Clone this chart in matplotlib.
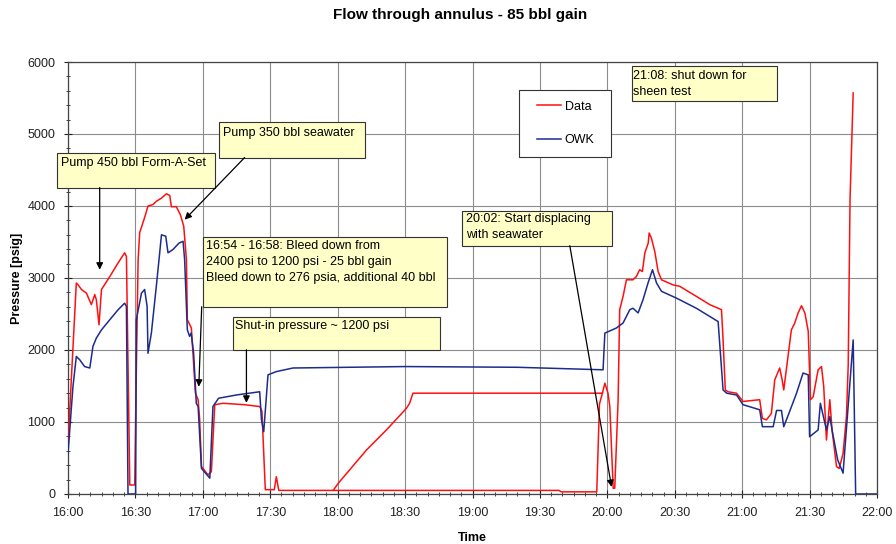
import matplotlib
matplotlib.use('Agg')
import matplotlib.pyplot as plt
from matplotlib.ticker import MultipleLocator, FuncFormatter
from matplotlib.patches import Rectangle

plt.rcParams['font.family'] = ['Liberation Sans', 'DejaVu Sans']

# ---- data (minutes after 16:00, pressure psig) ----
data_t = [0, 3.7, 4.5, 6, 8.2, 10.4, 11.9, 12.6, 13.8, 14.9, 18.6, 22.3, 25.2, 26.0, 27.5, 29.7,
          30.3, 31.2, 31.9, 34.1, 35.6, 37.8, 39.3, 41.6, 43.8, 45.3, 46.0, 48.2, 50.0, 51.5, 52.7,
          53.1, 54.9, 55.6, 56.7, 57.9, 58.6, 59.4, 62.3, 63.8, 65.3, 69, 78.6, 85.3, 86.3, 87.8,
          91.8, 92.7, 93.8, 118, 120.3, 132.8, 141.7, 150.6, 152, 153.5, 237.8, 238.9, 240.3,
          241.1, 242.6, 243.3, 244.8, 245.5, 247, 248.5, 251.4, 252.9, 254.4, 255.6, 256.7, 258.2,
          258.6, 259.6, 261.1, 262.6, 264.1, 269.2, 272.2, 279.6, 285.6, 290.8, 291.5, 292.5,
          293.7, 297.5, 300.4, 307.8, 309, 310.8, 313, 314.5, 316.7, 317.8, 318.5, 321.9, 323.4,
          324.9, 326.4, 327.9, 329.4, 330.4, 331.6, 333.8, 335.3, 336.3, 337.5, 339, 340, 342,
          343.2, 344.9, 346.4, 347.2, 348, 349.4]
data_v = [700, 2930, 2905, 2840, 2790, 2630, 2770, 2700, 2350, 2840, 3020, 3210, 3350, 3300, 125, 125,
          1500, 3250, 3630, 3840, 4000, 4020, 4065, 4110, 4170, 4145, 3990, 3990, 3880, 3720, 3255,
          2420, 2305, 1960, 1400, 1310, 1030, 380, 265, 310, 1240, 1260, 1240, 1215, 1150, 60,
          60, 240, 50, 50, 150, 610, 890, 1190, 1260, 1400, 1400, 1540, 1400,
          1215, 80, 80, 1310, 2560, 2745, 2975, 2975, 3020, 3115, 3090, 3350, 3485,
          3625, 3555, 3370, 3090, 2975, 2905, 2885, 2745, 2630, 2560, 2140, 1445,
          1420, 1400, 1285, 1310, 1050, 1030, 1120, 1585, 1750, 1585, 1445, 2280, 2375,
          2515, 2615, 2515, 2260, 1310, 1350, 1725, 1770, 1490, 750, 1310, 890, 380,
          355, 565, 1075, 1800, 4090, 5570]

# second (low) trace of the Data series between 18:00 and 20:00
data_low_t = [118, 218.5, 219.5, 235.3, 236.5, 237.8]
data_low_v = [50, 50, 30, 30, 1250, 1400]

owk_t = [0, 2.2, 3.7, 5.2, 7.4, 9.7, 11.1, 12.6, 14.9, 18.6, 22.3, 25.2, 26.0, 26.7, 30.1, 30.4,
         32.7, 34.1, 35.2, 35.6, 37.1, 39.3, 40.5, 41.6, 43.5, 44.5, 46.7, 49.4, 51.2, 51.9, 53.1,
         54.1, 54.8, 55.9, 57.1, 57.9, 59.4, 63.1, 64.5, 67, 74.9, 85.3, 86.1, 87.1, 89, 92.7,
         100.1, 150, 200, 238.1, 238.9, 244, 247, 250, 251.4, 253.7, 255.9, 258.1, 260.1, 261.9,
         264.1, 270.8, 279.6, 289.3, 291.5, 293.1, 297.5, 300.4, 307.8, 309, 313.8, 315.3, 317.5,
         318.5, 320.8, 324.2, 327.1, 329.4, 330, 333.8, 334.8, 337.5, 339, 340, 342.5, 344.9,
         349.4, 350.5, 360]
owk_v = [560, 1490, 1910, 1865, 1770, 1750, 2050, 2165, 2280, 2420, 2560, 2650, 2605, 0, 0, 2420,
         2790, 2840, 2605, 1955, 2235, 2885, 3255, 3600, 3580, 3350, 3395, 3485, 3510, 3255, 2280,
         2190, 2235, 1955, 1260, 1215, 355, 220, 1215, 1330, 1375, 1420, 1030, 865, 1655, 1700,
         1750, 1770, 1760, 1725, 2235, 2305, 2375, 2560, 2580, 2515, 2700, 2930, 3115, 2930,
         2815, 2720, 2580, 2395, 1445, 1400, 1375, 1240, 1170, 935, 935, 1160, 1160,
         935, 1120, 1400, 1680, 1655, 795, 890, 1260, 890, 1075, 890, 475, 290,
         2140, 0, 0]

series_labels = ['Data', 'OWK']
series_colors = ['#ff1010', '#1c2c8c']

# ---- figure ----
fig = plt.figure(figsize=(8.96, 5.44), dpi=100)
ax = fig.add_axes([68/896, 50/544, (877-68)/896, (494-62)/544])

ax.plot(data_t, data_v, color=series_colors[0], lw=1.1, label=series_labels[0], zorder=3)
ax.plot(data_low_t, data_low_v, color=series_colors[0], lw=1.1, zorder=3)
ax.plot(owk_t, owk_v, color=series_colors[1], lw=1.1, label=series_labels[1], zorder=4)

ax.set_xlim(0, 360)
ax.set_ylim(0, 6000)
ax.xaxis.set_major_locator(MultipleLocator(30))
ax.xaxis.set_minor_locator(MultipleLocator(5))
ax.yaxis.set_major_locator(MultipleLocator(1000))
ax.yaxis.set_minor_locator(MultipleLocator(200))
ax.xaxis.set_major_formatter(FuncFormatter(lambda m, p: f"{16 + int(m // 60)}:{int(round(m % 60)):02d}"))
ax.grid(True, which='major', color='#8c8c8c', lw=0.8, zorder=0)
ax.tick_params(which='major', direction='inout', length=6, width=0.8, labelsize=9, colors='#222222', pad=6)
ax.tick_params(which='minor', direction='inout', length=3, width=0.6, colors='#222222')
for s in ax.spines.values():
    s.set_color('#444444')
    s.set_linewidth(0.9)

ax.set_xlabel('Time', fontsize=9, fontweight='bold', labelpad=10)
ax.set_ylabel('Pressure [psig]', fontsize=9, fontweight='bold', labelpad=3)
fig.text(0.514, 0.972, 'Flow through annulus - 85 bbl gain', ha='center', va='center',
         fontsize=11, fontweight='bold')

# legend: frame drawn separately to match the reference box
ax.add_patch(Rectangle((0.5575, 0.780), 0.1138, 0.155, transform=ax.transAxes,
                       facecolor='white', edgecolor='#333333', lw=0.8, zorder=6))
leg = ax.legend(loc='upper left', bbox_to_anchor=(0.5736, 0.922), borderaxespad=0,
                fontsize=9, frameon=False, labelspacing=1.7,
                handlelength=1.9, borderpad=0.4, handletextpad=0.3)
leg.set_zorder(7)

box_fc = '#ffffc8'
box_ec = '#333333'

def note(x0, x1, y0, y1, tx, ty, text):
    ax.add_patch(Rectangle((x0, y0), x1 - x0, y1 - y0, facecolor=box_fc, edgecolor=box_ec,
                           lw=0.8, clip_on=False, zorder=7))
    ax.text(tx, ty, text, ha='left', va='center', fontsize=9, linespacing=1.45,
            zorder=8, clip_on=False)

def arrow(x0, y0, x1, y1):
    ax.annotate('', xy=(x1, y1), xytext=(x0, y0),
                arrowprops=dict(arrowstyle='-|>', color='black', lw=0.9, mutation_scale=10,
                                shrinkA=0, shrinkB=0), zorder=9, annotation_clip=False)

note(-5.0, 65.3, 4256, 4743, -3.2, 4600, 'Pump 450 bbl Form-A-Set')
note(67.1, 132.0, 4673, 5160, 69.0, 5010, 'Pump 350 bbl seawater')
note(60.0, 168.5, 2601, 3574, 61.6, 3220,
     '16:54 - 16:58: Bleed down from\n2400 psi to 1200 psi - 25 bbl gain\nBleed down to 276 psia, additional 40 bbl')
note(73.3, 165.4, 2003, 2462, 74.2, 2330, 'Shut-in pressure ~ 1200 psi')
note(175.2, 242.0, 3449, 3936, 177.0, 3707, '20:02: Start displacing\nwith seawater')
note(250.9, 315.4, 5452, 5939, 251.6, 5693, '21:08: shut down for\nsheen test')

arrow(14.1, 4256, 14.1, 3115)
arrow(78.6, 4673, 51.9, 3810)
arrow(59.5, 2601, 58.2, 1490)
arrow(79.4, 2003, 79.4, 1266)
arrow(223.3, 3449, 241.9, 97)

fig.savefig('out.png', dpi=100)
